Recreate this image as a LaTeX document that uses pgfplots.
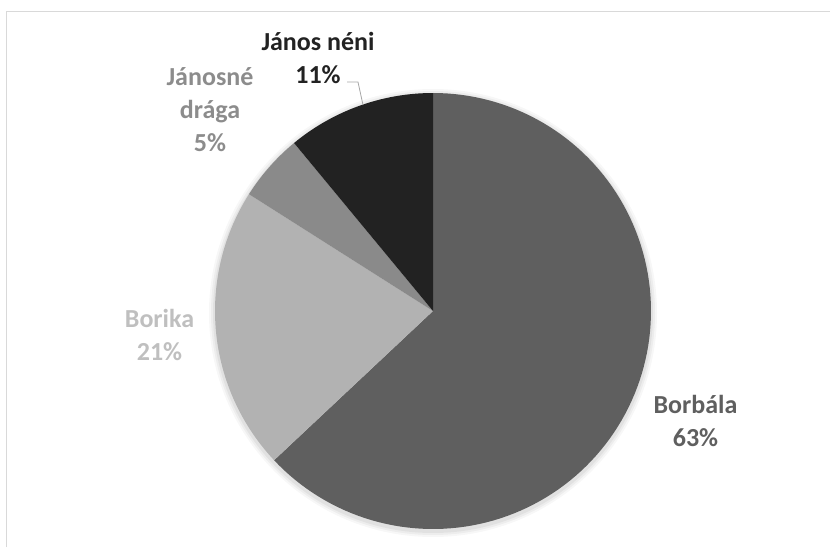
\documentclass[border=0pt]{standalone}
\usepackage{pgfplots}
\pgfplotsset{compat=1.18}
\usepackage{fontspec}
\setmainfont{Carlito}
\definecolor{cBorbala}{HTML}{5F5F5F}
\definecolor{cBorika}{HTML}{B2B2B2}
\definecolor{cJdraga}{HTML}{8A8A8A}
\definecolor{cJneni}{HTML}{222222}
\definecolor{lBorika}{HTML}{BFBFBF}
\definecolor{lJdraga}{HTML}{8C8C8C}
\definecolor{frame}{HTML}{D9D9D9}
% shares (percent)
\def\vA{63}% Borbala
\def\vB{21}% Borika
\def\vC{5}%  Janosne draga
\def\vD{11}% Janos neni
\begin{document}
\begin{tikzpicture}
\begin{axis}[
  scale only axis, width=830pt, height=547pt,
  xmin=0, xmax=830, ymin=0, ymax=547,
  hide axis, clip=false,
]
% frame
\draw[frame, line width=1pt] (6,0) -- (6,535) -- (830,535);
% soft shadow
\foreach \k/\o in {6/0.03,4/0.04,2/0.05}{
  \edef\tmp{\noexpand\fill[black, opacity=\o] (433,234) circle[radius={218+\k}];}\tmp
}
\pgfmathsetmacro{\aA}{3.6*\vA}
\pgfmathsetmacro{\aB}{\aA+3.6*\vB}
\pgfmathsetmacro{\aC}{\aB+3.6*\vC}
\pgfmathsetmacro{\aD}{\aC+3.6*\vD}
\addplot[fill=cBorbala, draw=none, domain=0:\aA, samples=120]
  ({433+218*sin(x)},{236+218*cos(x)}) -- (433,236) -- cycle;
\addplot[fill=cBorika, draw=none, domain=\aA:\aB, samples=60]
  ({433+218*sin(x)},{236+218*cos(x)}) -- (433,236) -- cycle;
\addplot[fill=cJdraga, draw=none, domain=\aB:\aC, samples=30]
  ({433+218*sin(x)},{236+218*cos(x)}) -- (433,236) -- cycle;
\addplot[fill=cJneni, draw=none, domain=\aC:\aD, samples=40]
  ({433+218*sin(x)},{236+218*cos(x)}) -- (433,236) -- cycle;
% leader line
\draw[black!35, line width=0.8pt] (347,465) -- (358,465) -- (363,442);
% labels
\tikzset{lbl/.style={align=center, font=\fontsize{26}{33}\selectfont\bfseries, inner sep=0pt}}
\node[lbl, text=cJneni] at (318,489) {János néni\\\vD\%};
\node[lbl, text=lJdraga] at (210,437) {Jánosné\\drága\\\vC\%};
\node[lbl, text=lBorika] at (159.5,212) {Borika\\\vB\%};
\node[lbl, text=cBorbala] at (695.5,126) {Borbála\\\vA\%};
\end{axis}
\pgfresetboundingbox
\path[use as bounding box] (0,0) rectangle (830pt,547pt);
\end{tikzpicture}
\end{document}
